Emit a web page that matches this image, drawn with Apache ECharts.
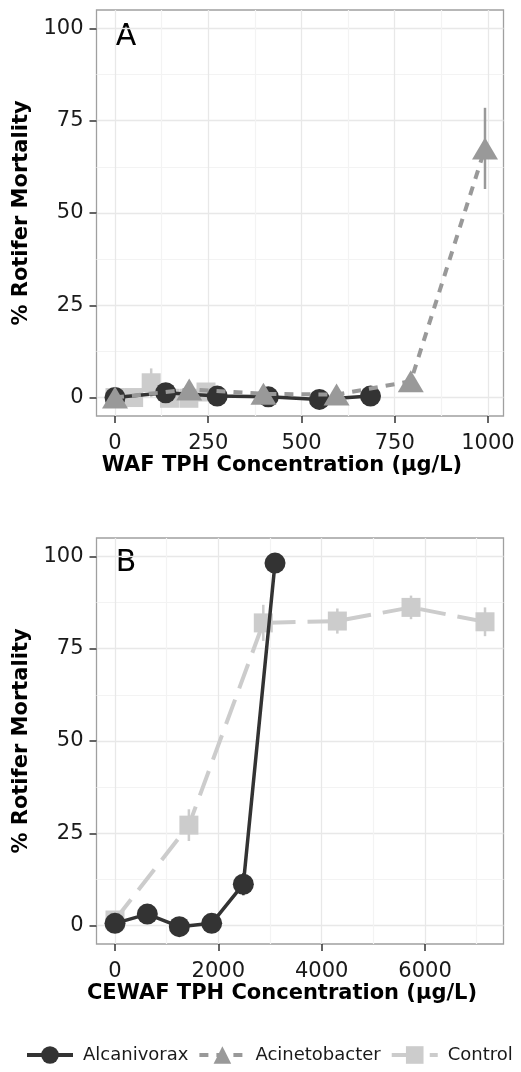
<!DOCTYPE html>
<html>
<head>
<meta charset="utf-8">
<style>
  html, body { margin: 0; padding: 0; background: #fff; }
  #main { width: 521px; height: 1072px; }
</style>
<script src="https://cdn.jsdelivr.net/npm/echarts@6/dist/echarts.min.js"></script>
</head>
<body>
<div id="main"></div>
<script>
// 面板A：WAF
var wafAlcX = [0, 136, 274, 411, 548, 685];
var wafAlcY = [0, 1.3, 0.4, 0.2, -0.5, 0.4];
var wafAciX = [0, 199, 398, 594, 793, 992];
var wafAciY = [0, 2.2, 1, 0.8, 4.4, 67.5];
var wafAciErr = [0, 0, 0, 0, 0, 11];
var wafCtlX = [0, 50, 97, 146, 198, 244];
var wafCtlY = [0, 0, 4, -0.2, -0.2, 1.5];
var wafCtlErr = [0, 0, 3.9, 0, 0, 0];

// 面板B：CEWAF
var cewafAlcX = [0, 626, 1245, 1871, 2484, 3097];
var cewafAlcY = [0.6, 3.1, -0.3, 0.6, 11.2, 98.2];
var cewafAlcErr = [0, 0, 0, 0, 3, 0];
var cewafCtlX = [0, 1430, 2870, 4303, 5729, 7161];
var cewafCtlY = [1.5, 27.2, 82, 82.5, 86.2, 82.3];
var cewafCtlErr = [0, 4.3, 4.9, 3.4, 3.2, 3.9];

// 刻度
var yTicks = [0, 25, 50, 75, 100];
var yMinor = [12.5, 37.5, 62.5, 87.5];
var wafTicks = [0, 250, 500, 750, 1000];
var wafMinor = [125, 375, 625, 875];
var cewafTicks = [0, 2000, 4000, 6000];
var cewafMinor = [1000, 3000, 5000, 7000];

var legendNames = ['Alcanivorax', 'Acinetobacter', 'Control'];

var FONT = 'DejaVu Sans';
var cDark = '#333333', cMid = '#999999', cLight = '#cccccc';

function zip(xs, ys) {
  return xs.map(function (x, i) { return [x, ys[i]]; });
}
function zipErr(xs, ys, es) {
  var out = [];
  xs.forEach(function (x, i) { if (es[i] > 0) out.push([x, ys[i], es[i]]); });
  return out;
}
function plain(v) { return String(v); }

// 主坐标轴（刻度、标签、主网格线）
function majorX(grid, min, max, ticks, name) {
  return {
    type: 'value', gridIndex: grid, min: min, max: max, position: 'bottom',
    axisLine: { show: false, onZero: false },
    axisTick: { show: true, length: 7, customValues: ticks, lineStyle: { color: '#333', width: 1.5 } },
    axisLabel: { customValues: ticks, formatter: plain, margin: 17, color: '#1a1a1a', fontSize: 21, fontFamily: FONT },
    splitLine: { show: true, lineStyle: { color: '#e8e8e8', width: 1.3 } },
    name: name, nameLocation: 'middle', nameGap: 39,
    nameTextStyle: { fontSize: 21, fontWeight: 'bold', fontFamily: FONT, color: '#000', padding: [0, 36, 0, 0] }
  };
}
function majorY(grid) {
  return {
    type: 'value', gridIndex: grid, min: -5, max: 105, position: 'left',
    axisLine: { show: false, onZero: false },
    axisTick: { show: true, length: 7, customValues: yTicks, lineStyle: { color: '#333', width: 1.5 } },
    axisLabel: { customValues: yTicks, formatter: plain, margin: 13, color: '#1a1a1a', fontSize: 21, fontFamily: FONT },
    splitLine: { show: true, lineStyle: { color: '#e8e8e8', width: 1.3 } },
    name: '% Rotifer Mortality', nameLocation: 'middle', nameGap: 61,
    nameTextStyle: { fontSize: 21, fontWeight: 'bold', fontFamily: FONT, color: '#000' }
  };
}
// 次网格线
function minorAxis(grid, min, max, vals) {
  return {
    type: 'value', gridIndex: grid, min: min, max: max,
    axisLine: { show: false, onZero: false },
    axisTick: { show: false, customValues: vals },
    axisLabel: { show: false },
    splitLine: { show: true, lineStyle: { color: '#f3f3f3', width: 1.2 } }
  };
}

function lineSeries(name, xi, data, kind) {
  var s = {
    name: name, type: 'line', xAxisIndex: xi, yAxisIndex: xi, data: data,
    animation: false, silent: true
  };
  if (kind === 'alc') {
    s.symbol = 'circle'; s.symbolSize = 21; s.z = 3;
    s.itemStyle = { color: cDark };
    s.lineStyle = { color: cDark, width: 3.5 };
  } else if (kind === 'aci') {
    s.symbol = 'triangle'; s.symbolSize = [26, 22]; s.z = 4;
    s.itemStyle = { color: cMid };
    s.lineStyle = { color: cMid, width: 4, type: [9, 8] };
  } else {
    s.symbol = 'rect'; s.symbolSize = 19; s.z = 2;
    s.itemStyle = { color: cLight };
    s.lineStyle = { color: cLight, width: 4, type: [26, 12] };
  }
  return s;
}

function errSeries(xi, data, color, z) {
  return {
    name: 'err', type: 'custom', xAxisIndex: xi, yAxisIndex: xi, data: data, z: z,
    animation: false, silent: true,
    encode: { x: 0, y: 1 },
    renderItem: function (params, api) {
      var x = api.value(0), y = api.value(1), e = api.value(2);
      var p1 = api.coord([x, y - e]);
      var p2 = api.coord([x, y + e]);
      return {
        type: 'line',
        shape: { x1: p1[0], y1: p1[1], x2: p2[0], y2: p2[1] },
        style: { stroke: color, lineWidth: 2.5 }
      };
    }
  };
}

var myChart = echarts.init(document.getElementById('main'), null, { renderer: 'canvas' });

var option = {
  animation: false,
  backgroundColor: '#fff',
  grid: [
    { left: 96.5, top: 10, width: 407, height: 406, show: true, borderColor: '#a0a0a0', borderWidth: 1.3, backgroundColor: 'transparent', outerBoundsMode: 'none' },
    { left: 96.5, top: 538, width: 407, height: 406, show: true, borderColor: '#a0a0a0', borderWidth: 1.3, backgroundColor: 'transparent', outerBoundsMode: 'none' }
  ],
  xAxis: [
    majorX(0, -49.6, 1041.6, wafTicks, 'WAF TPH Concentration (µg/L)'),
    majorX(1, -358, 7519, cewafTicks, 'CEWAF TPH Concentration (µg/L)'),
    minorAxis(0, -49.6, 1041.6, wafMinor),
    minorAxis(1, -358, 7519, cewafMinor)
  ],
  yAxis: [
    majorY(0),
    majorY(1),
    minorAxis(0, -5, 105, yMinor),
    minorAxis(1, -5, 105, yMinor)
  ],
  legend: {
    data: legendNames,
    left: 20, top: 1041, width: 510,
    itemWidth: 46, itemHeight: 22, itemGap: 9,
    lineStyle: { width: 4 },
    textStyle: { fontSize: 18, fontFamily: FONT, color: '#1a1a1a', padding: [0, 0, 0, 5] }
  },
  graphic: [
    { type: 'text', x: 126, y: 37, style: { text: 'A', fontSize: 30, fontFamily: FONT, fill: '#000', align: 'center', verticalAlign: 'middle' } },
    { type: 'text', x: 126, y: 563, style: { text: 'B', fontSize: 30, fontFamily: FONT, fill: '#000', align: 'center', verticalAlign: 'middle' } }
  ],
  series: [
    errSeries(0, zipErr(wafCtlX, wafCtlY, wafCtlErr), cLight, 1),
    lineSeries('Control', 0, zip(wafCtlX, wafCtlY), 'ctl'),
    lineSeries('Alcanivorax', 0, zip(wafAlcX, wafAlcY), 'alc'),
    errSeries(0, zipErr(wafAciX, wafAciY, wafAciErr), cMid, 4),
    lineSeries('Acinetobacter', 0, zip(wafAciX, wafAciY), 'aci'),

    errSeries(1, zipErr(cewafCtlX, cewafCtlY, cewafCtlErr), cLight, 1),
    lineSeries('Control', 1, zip(cewafCtlX, cewafCtlY), 'ctl'),
    errSeries(1, zipErr(cewafAlcX, cewafAlcY, cewafAlcErr), cDark, 2),
    lineSeries('Alcanivorax', 1, zip(cewafAlcX, cewafAlcY), 'alc')
  ]
};

myChart.setOption(option);
</script>
</body>
</html>
